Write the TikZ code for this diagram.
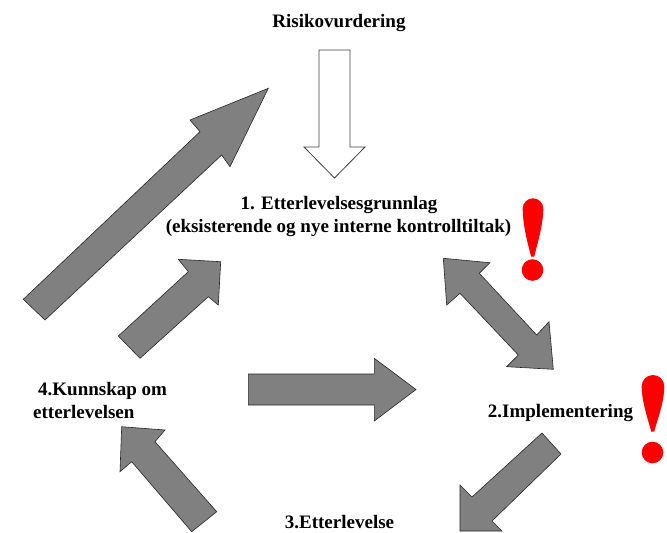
\documentclass[tikz,border=0pt]{standalone}
\usepackage{fontspec}
\setmainfont{Liberation Serif}
\definecolor{arrowgray}{HTML}{808080}
\definecolor{exclred}{HTML}{FF0000}
\begin{document}
\begin{tikzpicture}[x=1pt,y=-1pt,
  lbl/.style={font=\bfseries\fontsize{19}{22}\selectfont, inner sep=0pt, anchor=base},
  grayarrow/.style={fill=arrowgray, draw=black!85, line width=0.6pt, line join=miter},
  whitearrow/.style={fill=white, draw=black!75, line width=0.8pt, line join=miter},
  excl/.style={fill=exclred, draw=none}]
\useasboundingbox (0,0) rectangle (667,533);

% labels
\node[lbl] (risk) at (339,27) {Risikovurdering};
\node[lbl] (step1a) at (339,209) {1. Etterlevelsesgrunnlag};
\node[lbl] (step1b) at (338.5,232) {(eksisterende og nye interne kontrolltiltak)};
\node[lbl, anchor=base west] (step4a) at (38,395) {4.Kunnskap om};
\node[lbl, anchor=base west] (step4b) at (33,418) {etterlevelsen};
\node[lbl] (step2) at (560.5,417) {2.Implementering};
\node[lbl] (step3) at (339.5,528.5) {3.Etterlevelse};

% white arrow from Risikovurdering
\draw[whitearrow] (319,50) -- (350,50) -- (350,147) -- (365,147) -- (334.5,178)
  -- (304,147) -- (319,147) -- cycle;

% big diagonal arrow (4 -> Risikovurdering)
\draw[grayarrow] (23.3,299.3) -- (200,131.7) -- (190,120) -- (268.3,88.3)
  -- (230,166.7) -- (221.7,155) -- (45,320) -- cycle;

% small diagonal arrow (4 -> 1)
\draw[grayarrow] (118.3,336) -- (188.3,271.7) -- (178.3,259.3) -- (220.7,261.7)
  -- (218.3,305) -- (208.3,296.7) -- (140,358.3) -- cycle;

% double arrow (1 <-> 2)
\draw[grayarrow] (443.3,258.3) -- (490,262.7) -- (479.3,273.3) -- (536.7,335)
  -- (549,321.7) -- (553.3,369.3) -- (506.7,366.7) -- (518.3,355)
  -- (460,293.3) -- (446.7,305) -- cycle;

% horizontal arrow (4 -> 2)
\draw[grayarrow] (248.3,374) -- (374.3,374) -- (374.3,358.3) -- (416,389.5)
  -- (374.3,421) -- (374.3,405) -- (248.3,405) -- cycle;

% arrow 2 -> 3
\draw[grayarrow] (542,433) -- (472,497) -- (460,485) -- (460,531) -- (502,531)
  -- (492,521) -- (561,454) -- cycle;

% arrow 3 -> 4
\draw[grayarrow] (121.7,426.7) -- (165,430) -- (155,441.7) -- (216.7,511.7)
  -- (191.7,531.7) -- (131.7,461.7) -- (120,471.7) -- cycle;

% exclamation marks
\fill[excl] (522.7,208.6) arc[start angle=180,end angle=360,radius=10.3]
  .. controls (543.3,225) and (537,245) .. (534.2,256.7) -- (531.2,256.7)
  .. controls (528,245) and (522.7,225) .. cycle;
\fill[excl] (532.5,270) circle[radius=10.8];
\fill[excl] (641.7,386.3) arc[start angle=180,end angle=360,radius=11.3]
  .. controls (664.3,403) and (656.5,422) .. (654.2,431.7) -- (651.2,431.7)
  .. controls (649,422) and (641.7,403) .. cycle;
\fill[excl] (652.5,452.5) circle[radius=10.8];
\end{tikzpicture}
\end{document}
